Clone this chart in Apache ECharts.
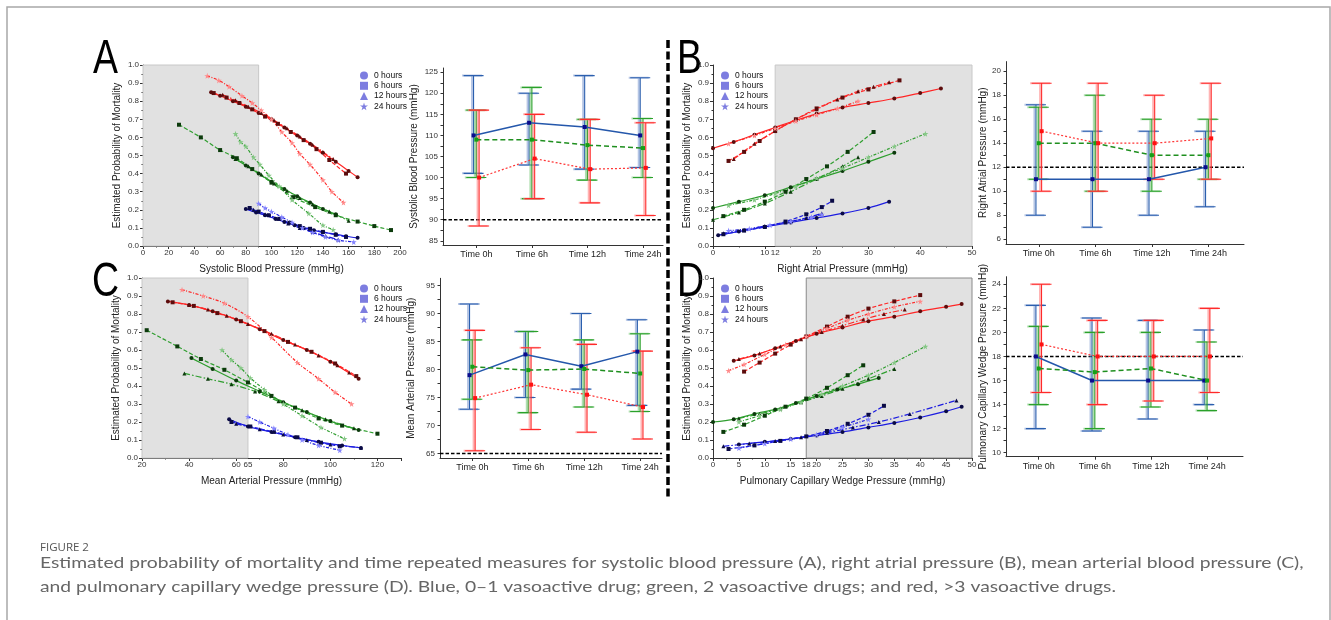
<!DOCTYPE html>
<html><head><meta charset="utf-8">
<script src="https://cdn.jsdelivr.net/npm/echarts@6/dist/echarts.min.js"></script>
<style>html,body{margin:0;padding:0;background:#fff}#c{width:1331px;height:620px}</style>
</head><body><div id="c"></div>
<script>
// ---------- DATA ----------
const hours = ['0 hours', '6 hours', '12 hours', '24 hours'];
const times = ['Time 0h', 'Time 6h', 'Time 12h', 'Time 24h'];

const sbpRed = [
  [[53,0.85],[60,0.83],[70,0.80],[80,0.77],[90,0.735],[100,0.70],[110,0.655],[120,0.61],[130,0.565],[140,0.515],[150,0.465],[160,0.415],[167,0.38]],
  [[55,0.845],[65,0.82],[75,0.79],[85,0.755],[95,0.715],[105,0.675],[115,0.63],[125,0.585],[135,0.535],[145,0.475],[158,0.40]],
  [[62,0.835],[72,0.805],[82,0.77],[92,0.735],[102,0.695],[112,0.65],[122,0.605],[132,0.56],[140,0.52],[148,0.48]],
  [[50,0.94],[59,0.915],[67,0.88],[77,0.83],[85,0.79],[92,0.75],[100,0.70],[108,0.63],[116,0.57],[122,0.51],[130,0.45],[140,0.365],[147,0.30],[156,0.24]]
];
const sbpGreen = [
  [[70,0.49],[80,0.445],[90,0.40],[100,0.355],[110,0.315],[120,0.275],[130,0.24],[140,0.205],[150,0.175]],
  [[28,0.67],[45,0.60],[60,0.53],[73,0.485],[85,0.425],[100,0.35],[117,0.27],[134,0.215],[150,0.17],[167,0.135],[180,0.11],[193,0.088]],
  [[72,0.48],[82,0.44],[92,0.395],[102,0.345],[112,0.305],[122,0.265],[132,0.23],[145,0.19],[160,0.14]],
  [[72,0.62],[76,0.575],[80,0.55],[86,0.49],[91,0.45],[98,0.39],[106,0.33],[116,0.255],[129,0.18],[140,0.115],[148,0.09]]
];
const sbpBlue = [
  [[80,0.205],[88,0.185],[95,0.17],[103,0.15],[110,0.133],[118,0.115],[125,0.10],[133,0.087],[140,0.076],[150,0.065],[158,0.054],[167,0.045]],
  [[83,0.21],[90,0.19],[98,0.17],[106,0.15],[114,0.128],[122,0.11],[130,0.095],[140,0.078],[150,0.062],[158,0.05]],
  [[86,0.2],[95,0.175],[104,0.15],[113,0.125],[122,0.1],[132,0.077],[142,0.055],[152,0.035]],
  [[90,0.235],[95,0.21],[100,0.19],[108,0.16],[116,0.13],[124,0.1],[132,0.075],[142,0.05],[152,0.032],[164,0.022]]
];
const rapRed = [
  [[0,0.54],[4,0.575],[8,0.615],[12,0.655],[16,0.695],[20,0.73],[25,0.765],[30,0.79],[35,0.815],[40,0.845],[44,0.87]],
  [[3,0.47],[6,0.52],[9,0.58],[12,0.635],[16,0.70],[20,0.76],[25,0.82],[30,0.865],[36,0.915]],
  [[4,0.48],[8,0.565],[12,0.635],[16,0.70],[20,0.755],[24,0.81],[28,0.855],[31,0.88],[34,0.905]],
  [[3,0.565],[8,0.61],[12,0.65],[16,0.69],[20,0.725],[24,0.76],[28,0.80]]
];
const rapGreen = [
  [[0,0.21],[5,0.245],[10,0.28],[15,0.325],[20,0.37],[25,0.415],[30,0.465],[35,0.515]],
  [[2,0.165],[6,0.2],[10,0.245],[14,0.3],[18,0.37],[22,0.44],[26,0.52],[31,0.63]],
  [[0,0.145],[5,0.185],[10,0.235],[15,0.3],[20,0.37],[25,0.44],[28,0.49]],
  [[3,0.225],[8,0.255],[12,0.29],[16,0.33],[20,0.375],[25,0.43],[30,0.49],[35,0.55],[41,0.62]]
];
const rapBlue = [
  [[1,0.06],[5,0.08],[10,0.105],[15,0.13],[20,0.155],[25,0.18],[30,0.21],[34,0.245]],
  [[2,0.065],[6,0.085],[10,0.105],[14,0.135],[18,0.175],[21,0.215],[23,0.25]],
  [[2,0.07],[6,0.09],[10,0.11],[14,0.13],[18,0.155],[21,0.18]],
  [[3,0.085],[7,0.095],[11,0.115],[15,0.135],[19,0.16],[21,0.175]]
];
const mapRed = [
  [[31,0.87],[40,0.85],[50,0.815],[60,0.77],[70,0.715],[80,0.655],[90,0.6],[100,0.535],[112,0.44]],
  [[33,0.865],[42,0.845],[52,0.805],[62,0.76],[72,0.705],[82,0.645],[92,0.59],[102,0.525],[111,0.455]],
  [[40,0.85],[48,0.825],[56,0.79],[65,0.745],[75,0.69],[85,0.63],[95,0.57],[103,0.515],[108,0.475]],
  [[37,0.935],[46,0.90],[55,0.86],[65,0.785],[75,0.67],[86,0.53],[95,0.44],[102,0.365],[109,0.30]]
];
const mapGreen = [
  [[41,0.555],[50,0.495],[60,0.43],[70,0.37],[80,0.31],[90,0.255],[100,0.205],[112,0.155]],
  [[22,0.71],[35,0.62],[45,0.55],[55,0.49],[65,0.42],[75,0.345],[85,0.28],[95,0.22],[105,0.18],[120,0.135]],
  [[38,0.47],[48,0.44],[58,0.41],[68,0.37],[78,0.315],[88,0.265],[98,0.215],[110,0.165]],
  [[54,0.60],[58,0.545],[62,0.50],[66,0.445],[72,0.38],[80,0.30],[88,0.235],[96,0.17],[106,0.107]]
];
const mapBlue = [
  [[57,0.215],[65,0.175],[75,0.145],[85,0.115],[95,0.09],[105,0.07],[113,0.056]],
  [[58,0.20],[66,0.175],[76,0.145],[86,0.115],[96,0.085],[104,0.065]],
  [[60,0.19],[70,0.16],[80,0.13],[90,0.1],[100,0.075],[113,0.057]],
  [[65,0.23],[70,0.2],[76,0.165],[82,0.13],[88,0.1],[95,0.07],[104,0.043]]
];
const pcwpRed = [
  [[4,0.54],[8,0.57],[12,0.61],[16,0.65],[20,0.69],[25,0.725],[30,0.76],[35,0.785],[40,0.815],[45,0.84],[48,0.855]],
  [[6,0.48],[9,0.53],[12,0.58],[15,0.63],[18,0.675],[22,0.73],[26,0.785],[30,0.83],[35,0.87],[40,0.905]],
  [[5,0.55],[9,0.58],[13,0.62],[17,0.66],[21,0.7],[25,0.735],[29,0.77],[33,0.8],[37,0.825]],
  [[3,0.485],[6,0.52],[10,0.575],[14,0.63],[18,0.675],[22,0.72],[26,0.765],[30,0.8],[35,0.84],[40,0.87]]
];
const pcwpGreen = [
  [[0,0.2],[4,0.215],[8,0.245],[12,0.27],[16,0.305],[20,0.345],[24,0.38],[28,0.41],[32,0.445]],
  [[2,0.145],[6,0.185],[10,0.235],[14,0.285],[18,0.33],[22,0.39],[26,0.46],[29,0.515]],
  [[5,0.22],[9,0.245],[13,0.275],[17,0.31],[21,0.345],[25,0.385],[30,0.44],[35,0.495]],
  [[5,0.2],[9,0.235],[13,0.27],[17,0.31],[21,0.355],[25,0.4],[30,0.46],[35,0.53],[41,0.62]]
];
const pcwpBlue = [
  [[5,0.075],[10,0.09],[15,0.105],[20,0.125],[25,0.145],[30,0.17],[35,0.195],[40,0.225],[45,0.26],[48,0.285]],
  [[3,0.05],[8,0.07],[13,0.095],[18,0.12],[22,0.15],[26,0.19],[30,0.24],[33,0.29]],
  [[2,0.065],[7,0.08],[12,0.095],[17,0.115],[22,0.14],[27,0.17],[32,0.2],[38,0.245],[47,0.32]],
  [[5,0.055],[10,0.08],[15,0.105],[20,0.13],[25,0.17],[30,0.215]]
];

const sbpBlueMean = [110, 113, 112, 110],      sbpBlueLo = [101, 103, 102, 102.4],  sbpBlueHi = [124.2, 120, 124.2, 123.7];
const sbpGreenMean = [109, 109, 107.7, 107],   sbpGreenLo = [100, 95, 99.4, 100],   sbpGreenHi = [116, 121.4, 113.8, 114];
const sbpRedMean = [100, 104.5, 102, 102.3],   sbpRedLo = [88.5, 95, 94, 91],       sbpRedHi = [116, 115, 113.8, 113];
const rapBlueMean = [11, 11, 11, 12],          rapBlueLo = [8, 7, 8, 8.7],          rapBlueHi = [17.2, 15, 15, 15];
const rapGreenMean = [14, 14, 13, 13],         rapGreenLo = [11, 10, 10, 11],       rapGreenHi = [17, 18, 16, 16];
const rapRedMean = [15, 14, 14, 14.4],         rapRedLo = [10, 10, 11, 11],         rapRedHi = [19, 19, 18, 19];
const mapBlueMean = [79, 82.7, 80.6, 83.2],    mapBlueLo = [72.9, 75, 76.5, 73.6],  mapBlueHi = [91.7, 86.8, 90, 88.9];
const mapGreenMean = [80.5, 79.9, 80.1, 79.3], mapGreenLo = [74.7, 72.3, 73.3, 72.5], mapGreenHi = [85.3, 86.8, 85.3, 86.4];
const mapRedMean = [74.9, 77.3, 75.5, 73.3],   mapRedLo = [65.5, 69.3, 68.8, 67.6], mapRedHi = [87, 83.9, 84.5, 83.3];
const pcwpBlueMean = [18, 16, 16, 16],         pcwpBlueLo = [12, 11.8, 12.8, 14],   pcwpBlueHi = [22.25, 21.2, 21, 20.2];
const pcwpGreenMean = [17, 16.7, 17, 16],      pcwpGreenLo = [14, 12, 13.8, 13.5],  pcwpGreenHi = [20.5, 20, 20, 19.2];
const pcwpRedMean = [19, 18, 18, 18],          pcwpRedLo = [15, 14, 14.3, 15],      pcwpRedHi = [24, 21, 21, 22];

const sbpRef = 90, rapRef = 12, mapRef = 65, pcwpRef = 18;

const sbpTicks = [85, 90, 95, 100, 105, 110, 115, 120, 125];
const sbpMinor = [87.5, 92.5, 97.5, 102.5, 107.5, 112.5, 117.5, 122.5];
const rapTicks = [6, 8, 10, 12, 14, 16, 18, 20];
const rapMinor = [7, 9, 11, 13, 15, 17, 19];
const mapTicks = [65, 70, 75, 80, 85, 90, 95];
const mapMinor = [67.5, 72.5, 77.5, 82.5, 87.5, 92.5];
const pcwpTicks = [10, 12, 14, 16, 18, 20, 22, 24];
const pcwpMinor = [11, 13, 15, 17, 19, 21, 23];

const caption1 = 'Estimated probability of mortality and time repeated measures for systolic blood pressure (A), right atrial pressure (B), mean arterial blood pressure (C),';
const caption2 = 'and pulmonary capillary wedge pressure (D). Blue, 0\u20131 vasoactive drug; green, 2 vasoactive drugs; and red, >3 vasoactive drugs.';

// ---------- BUILD ----------
const FONT = '"Liberation Sans", Arial, sans-serif';
const STAR = 'path://M50,0 L61,35 L98,35 L68,57 L79,91 L50,70 L21,91 L32,57 L2,35 L39,35 Z';
const SYM = ['circle', 'rect', 'triangle', STAR];
const DASH = ['solid', [4, 2], [6, 2, 1.5, 2], [3, 1.5, 1, 1.5]];
const grids = [], xAxes = [], yAxes = [], series = [];
const addGrid = g => (grids.push(g), grids.length - 1);
const addX = a => (xAxes.push(a), xAxes.length - 1);
const addY = a => (yAxes.push(a), yAxes.length - 1);
const axLine = () => ({onZero: false, lineStyle: {color: '#333', width: 1}});
const lab = () => ({fontSize: 8, color: '#333', fontFamily: FONT});
const nameStyle = {fontSize: 10, color: '#222', fontFamily: FONT};

function leftPanel(box, xmin, xmax, xint, xLabels, xName, shade, edgeColor, groups) {
  const gi = addGrid({left: box[0], top: box[1], width: box[2], height: box[3]});
  const xi = addX({type: 'value', gridIndex: gi, min: xmin, max: xmax, interval: xint,
    name: xName, nameLocation: 'middle', nameGap: 18, nameTextStyle: nameStyle,
    axisLine: axLine(), axisTick: {length: 3, lineStyle: {color: '#333'}},
    minorTick: {show: true, splitNumber: 2, length: 1.5, lineStyle: {color: '#333'}},
    axisLabel: Object.assign({margin: 3, customValues: xLabels}, lab()), splitLine: {show: false}});
  const yi = addY({type: 'value', gridIndex: gi, min: 0, max: 1, interval: 0.1,
    name: 'Estimated Probability of Mortality', nameLocation: 'middle', nameGap: 21, nameTextStyle: nameStyle,
    axisLine: axLine(), axisTick: {length: 3, lineStyle: {color: '#333'}},
    minorTick: {show: true, splitNumber: 2, length: 1.5, lineStyle: {color: '#333'}},
    axisLabel: Object.assign({margin: 4, formatter: v => v.toFixed(1)}, lab()), splitLine: {show: false}});
  series.push({type: 'line', xAxisIndex: xi, yAxisIndex: yi, data: [[shade[0], 0]], symbol: 'none', silent: true,
    lineStyle: {opacity: 0}, z: 1,
    markArea: {silent: true, itemStyle: {color: '#e1e1e1', borderColor: edgeColor, borderWidth: 1},
      data: [[{xAxis: shade[0]}, {xAxis: shade[1]}]]}});
  groups.forEach(g => {
    g.curves.forEach((c, t) => {
      series.push({type: 'line', xAxisIndex: xi, yAxisIndex: yi, data: c, smooth: 0.3, silent: true, z: 3,
        symbol: SYM[t], symbolSize: t === 3 ? 6 : 4,
        lineStyle: {color: g.color, width: 1.2, type: DASH[t]},
        itemStyle: {color: t === 3 ? g.light : g.dark}});
    });
  });
}

// Error bars are drawn as plain line series through the axes (one short polyline per whisker and cap).
function rightPanel(box, xr, yr, yTicks, yMinor, yName, refY, nameGap, groups) {
  const gi = addGrid({left: box[0], top: box[1], width: box[2], height: box[3]});
  const xi = addX({type: 'value', gridIndex: gi, min: xr[0], max: xr[1],
    axisLine: axLine(), axisTick: {customValues: [0, 1, 2, 3], length: 3, lineStyle: {color: '#333'}},
    axisLabel: {customValues: [0, 1, 2, 3], formatter: v => times[v], fontSize: 9, color: '#222', fontFamily: FONT, margin: 5},
    splitLine: {show: false}});
  const yi = addY({type: 'value', gridIndex: gi, min: yr[0], max: yr[1],
    name: yName, nameLocation: 'middle', nameGap: nameGap, nameTextStyle: nameStyle,
    axisLine: axLine(), axisTick: {customValues: yTicks.concat(yMinor).sort((p, q) => p - q), length: 2.5, lineStyle: {color: '#333'}},
    axisLabel: Object.assign({customValues: yTicks, margin: 5}, lab()), splitLine: {show: false}});
  series.push({type: 'line', xAxisIndex: xi, yAxisIndex: yi, silent: true, symbol: 'none',
    data: [[xr[0], refY], [xr[1], refY]], lineStyle: {color: '#000', type: [3.5, 2], width: 1.4}});
  const pxPerUnit = box[2] / (xr[1] - xr[0]);
  const capHalf = 10 / pxPerUnit, shadeDx = 1.5 / pxPerUnit;
  groups.forEach(g => {
    // one series with null-separated segments: whisker + caps, light shadow then solid
    const seg = dx => {
      const d = [];
      g.mean.forEach((m, i) => {
        const x = i + g.off + dx;
        d.push([x, g.lo[i]], [x, g.hi[i]], null,
          [x - capHalf, g.hi[i]], [x + capHalf, g.hi[i]], null,
          [x - capHalf, g.lo[i]], [x + capHalf, g.lo[i]], null);
      });
      return d;
    };
    series.push({type: 'line', xAxisIndex: xi, yAxisIndex: yi, silent: true, symbol: 'none', connectNulls: false,
      data: seg(-shadeDx), lineStyle: {color: g.shade, width: 2}});
    series.push({type: 'line', xAxisIndex: xi, yAxisIndex: yi, silent: true, symbol: 'none', connectNulls: false,
      data: seg(0), lineStyle: {color: g.bar, width: 1.1}});
  });
  groups.forEach(g => {
    series.push({type: 'line', xAxisIndex: xi, yAxisIndex: yi, silent: true,
      data: g.mean.map((m, i) => [i + g.off, m]),
      symbol: 'rect', symbolSize: 4, itemStyle: {color: g.marker},
      lineStyle: {color: g.line, width: g.lw, type: g.type}});
  });
}

const RED = {color: '#ff2626', dark: '#5c0c0c', light: '#ff8a8a'};
const GREEN = {color: '#2f9e2f', dark: '#0c3a0c', light: '#86c886'};
const BLUE = {color: '#1c1ce0', dark: '#0a0a45', light: '#8585ff'};
const g3 = (r, g, b) => [Object.assign({curves: r}, RED), Object.assign({curves: g}, GREEN), Object.assign({curves: b}, BLUE)];

const RB = {off: -0.05, bar: '#2b5fae', shade: 'rgba(120,150,205,0.55)', marker: '#0b0b8c', line: '#2457ab', lw: 1.5, type: 'solid'};
const RG = {off: 0, bar: '#2aa12a', shade: 'rgba(110,195,110,0.55)', marker: '#16a016', line: '#1f8f1f', lw: 1.5, type: [5, 3]};
const RR = {off: 0.05, bar: '#ff2a2a', shade: 'rgba(255,130,130,0.6)', marker: '#ff1010', line: '#ff3535', lw: 1.2, type: [2, 2]};
const r3 = (bm, bl, bh, gm, gl, gh, rm, rl, rh) => [
  Object.assign({mean: bm, lo: bl, hi: bh}, RB),
  Object.assign({mean: gm, lo: gl, hi: gh}, RG),
  Object.assign({mean: rm, lo: rl, hi: rh}, RR)];

leftPanel([143, 65, 257, 181], 0, 200, 20, null, 'Systolic Blood Pressure (mmHg)', [0, 90], '#c8c8c8', g3(sbpRed, sbpGreen, sbpBlue));
rightPanel([443, 68, 220, 177], [-0.6, 3.36], [84, 126], sbpTicks, sbpMinor,
  'Systolic Blood Pressure (mmHg)', sbpRef, 24,
  r3(sbpBlueMean, sbpBlueLo, sbpBlueHi, sbpGreenMean, sbpGreenLo, sbpGreenHi, sbpRedMean, sbpRedLo, sbpRedHi));
leftPanel([713, 65, 259, 181], 0, 50, 10, [0, 10, 12, 20, 30, 40, 50], 'Right Atrial Pressure (mmHg)', [12, 50], '#c8c8c8', g3(rapRed, rapGreen, rapBlue));
rightPanel([1006, 61.6, 238, 182.4], [-0.58, 3.63], [5.6, 20.8], rapTicks, rapMinor,
  'Right Atrial Pressure (mmHg)', rapRef, 17,
  r3(rapBlueMean, rapBlueLo, rapBlueHi, rapGreenMean, rapGreenLo, rapGreenHi, rapRedMean, rapRedLo, rapRedHi));
leftPanel([142, 278, 259, 180], 20, 130, 20, [20, 40, 60, 65, 80, 100, 120], 'Mean Arterial Pressure (mmHg)', [20, 65], '#c8c8c8', g3(mapRed, mapGreen, mapBlue));
rightPanel([440, 278.3, 222, 179.7], [-0.578, 3.39], [64.2, 96.3], mapTicks, mapMinor,
  'Mean Arterial Pressure (mmHg)', mapRef, 24,
  r3(mapBlueMean, mapBlueLo, mapBlueHi, mapGreenMean, mapGreenLo, mapGreenHi, mapRedMean, mapRedLo, mapRedHi));
leftPanel([713, 278, 259, 180], 0, 50, 5, [0, 5, 10, 15, 18, 20, 25, 30, 35, 40, 45, 50], 'Pulmonary Capillary Wedge Pressure (mmHg)', [18, 50], '#8a8a8a', g3(pcwpRed, pcwpGreen, pcwpBlue));
rightPanel([1006, 276.7, 237, 180], [-0.583, 3.64], [9.67, 24.63], pcwpTicks, pcwpMinor,
  'Pulmonary Capillary Wedge Pressure (mmHg)', pcwpRef, 17,
  r3(pcwpBlueMean, pcwpBlueLo, pcwpBlueHi, pcwpGreenMean, pcwpGreenLo, pcwpGreenHi, pcwpRedMean, pcwpRedLo, pcwpRedHi));

hours.forEach((h, i) => series.push({type: 'scatter', name: h, data: [], xAxisIndex: 0, yAxisIndex: 0,
  symbol: SYM[i], itemStyle: {color: '#5d5dd8'}}));
const legendAt = (left, top) => ({orient: 'vertical', left, top, itemWidth: 8, itemHeight: 8, itemGap: 1.3,
  selectedMode: false, textStyle: {fontSize: 8.5, color: '#111', fontFamily: FONT, padding: [0, 0, 0, 1]},
  data: hours.map((h, i) => ({name: h, icon: SYM[i]}))});

const txt = (t, x, y, font, fill, sx) => ({type: 'text', x, y, silent: true, scaleX: sx || 1,
  style: {text: t, font, fill, verticalAlign: 'middle', align: 'left'}});

const chart = echarts.init(document.getElementById('c'));
chart.setOption({
  backgroundColor: '#fff',
  animation: false,
  grid: grids, xAxis: xAxes, yAxis: yAxes, series,
  legend: [legendAt(355, 66), legendAt(716, 66), legendAt(355, 279), legendAt(716, 279)],
  graphic: [
    {type: 'rect', silent: true, shape: {x: 7, y: 7, width: 1323, height: 700},
      style: {fill: 'none', stroke: '#a8a8a8', lineWidth: 1.5}},
    txt('A', 93, 60, '48px ' + FONT, '#000', 0.78),
    txt('B', 677, 60, '48px ' + FONT, '#000', 0.78),
    txt('C', 92, 283, '48px ' + FONT, '#000', 0.78),
    txt('D', 677, 283, '48px ' + FONT, '#000', 0.78),
    {type: 'line', silent: true, shape: {x1: 668, y1: 40, x2: 668, y2: 500},
      style: {stroke: '#000', lineWidth: 3.5, lineDash: [8, 3.5]}},
    txt('FIGURE 2', 40, 548, '11.5px "Open Sans", sans-serif', '#555'),
    txt(caption1, 40, 563, '16px Lato, sans-serif', '#666', 1.205),
    txt(caption2, 40, 587, '16px Lato, sans-serif', '#666', 1.205)
  ]
});
</script></body></html>
